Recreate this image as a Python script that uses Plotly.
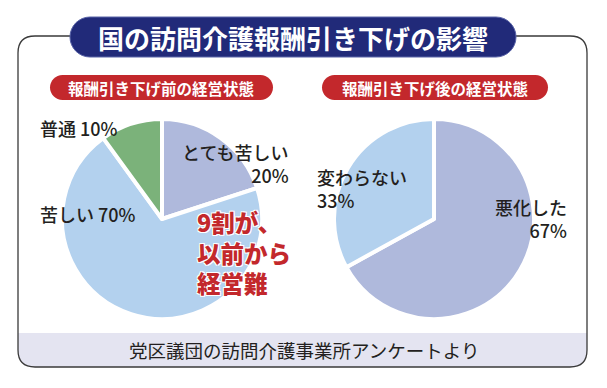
import plotly.graph_objects as go

# ---- data ----
before_labels = ["とても苦しい", "苦しい", "普通"]
before_values = [20, 70, 10]
before_colors = ["#afb9dc", "#b3d1ee", "#7bb27a"]

after_labels = ["悪化した", "変わらない"]
after_values = [67, 33]
after_colors = ["#afb9dc", "#b3d1ee"]

title_text = "国の訪問介護報酬引き下げの影響"
left_pill_text = "報酬引き下げ前の経営状態"
right_pill_text = "報酬引き下げ後の経営状態"
source_text = "党区議団の訪問介護事業所アンケートより"
callout_text = "9割が、<br>以前から<br>経営難"

PAGE_W, PAGE_H = 607, 388
OFF = 8  # default body margin of the html page
W, H = PAGE_W - OFF, PAGE_H - OFF
FONT = "Noto Sans CJK JP"
INK = "#231f20"
RED = "#c3282c"
NAVY = "#212a79"


def dom(cx, cy, r):
    cx, cy = cx - OFF, cy - OFF
    return dict(x=[(cx - r) / W, (cx + r) / W], y=[(H - cy - r) / H, (H - cy + r) / H])


fig = go.Figure()
fig.add_trace(go.Pie(labels=before_labels, values=before_values, sort=False,
                     direction="clockwise", rotation=0, textinfo="none",
                     hoverinfo="skip", showlegend=False,
                     marker=dict(colors=before_colors, line=dict(color="white", width=4)),
                     domain=dom(162, 219, 100)))
fig.add_trace(go.Pie(labels=after_labels, values=after_values, sort=False,
                     direction="clockwise", rotation=0, textinfo="none",
                     hoverinfo="skip", showlegend=False,
                     marker=dict(colors=after_colors, line=dict(color="white", width=4)),
                     domain=dom(434, 219, 100)))


def pill(x0, x1, y0, y1):
    r = (y1 - y0) / 2
    k = r * 0.5523
    cy = (y0 + y1) / 2
    return (f"M {x0+r},{y0} L {x1-r},{y0} C {x1-r+k},{y0} {x1},{cy-k} {x1},{cy} "
            f"C {x1},{cy+k} {x1-r+k},{y1} {x1-r},{y1} L {x0+r},{y1} "
            f"C {x0+r-k},{y1} {x0},{cy+k} {x0},{cy} C {x0},{cy-k} {x0+r-k},{y0} {x0+r},{y0} Z")


L, R, T, B, rr = 18, 587, 36, 367, 17
shapes = [
    dict(type="path", xref="x", yref="y", layer="below",
         path=f"M {L},333 L {R},333 L {R},{B-rr} Q {R},{B} {R-rr},{B} L {L+rr},{B} Q {L},{B} {L},{B-rr} Z",
         fillcolor="#e4e4f1", line=dict(width=0)),
    dict(type="path", xref="x", yref="y",
         path=(f"M {L},{T+rr} Q {L},{T} {L+rr},{T} L {R-rr},{T} Q {R},{T} {R},{T+rr} "
               f"L {R},{B-rr} Q {R},{B} {R-rr},{B} L {L+rr},{B} Q {L},{B} {L},{B-rr} Z"),
         line=dict(color="#3a3a3a", width=1.3)),
    dict(type="path", xref="x", yref="y", path=pill(70, 516, 17, 57),
         fillcolor=NAVY, line=dict(color="#5a64a8", width=1)),
    dict(type="path", xref="x", yref="y", path=pill(50, 273, 75, 100),
         fillcolor=RED, line=dict(width=0)),
    dict(type="path", xref="x", yref="y", path=pill(322, 548, 75, 100),
         fillcolor=RED, line=dict(width=0)),
]

ann = []


def txt(x, y, s, size=18, color=INK, xanchor="left", align="left", weight="normal", **kw):
    ann.append(dict(x=x, y=y, xref="x", yref="y", text=s,
                    showarrow=False, xanchor=xanchor, yanchor="middle", align=align,
                    font=dict(family=FONT, size=size, color=color, weight=weight), **kw))


txt(293, 37, title_text, size=26, color="white", xanchor="center", align="center", weight="bold")
txt(161.5, 87.5, left_pill_text, size=15.5, color="white", xanchor="center", weight="bold")
txt(435, 87.5, right_pill_text, size=15.5, color="white", xanchor="center", weight="bold")
txt(304, 350, source_text, size=18.5, xanchor="center")

txt(38, 128, f"普通 {before_values[2]}%", weight=500)
txt(38, 214, f"苦しい {before_values[1]}%", weight=500)
txt(291, 163, f"{before_labels[0]}<br>{before_values[0]}%", xanchor="right", align="right", weight=500)
txt(315, 188, f"{after_labels[1]}<br>{after_values[1]}%", weight=500)
txt(569, 218, f"{after_labels[0]}<br>{after_values[0]}%", xanchor="right", align="right", weight=500)

ann.append(dict(x=195, y=252, xref="x", yref="y", text=callout_text, showarrow=False,
                xanchor="left", yanchor="middle", align="left",
                font=dict(family=FONT, size=23.5, color=RED, weight=900,
                          shadow="1px 1px 0 white, -1px -1px 0 white, 1px -1px 0 white, -1px 1px 0 white")))

fig.update_layout(
    width=W, height=H, margin=dict(l=0, r=0, t=0, b=0),
    paper_bgcolor="white", plot_bgcolor="rgba(0,0,0,0)",
    xaxis=dict(range=[OFF, PAGE_W], visible=False, fixedrange=True),
    yaxis=dict(range=[PAGE_H, OFF], visible=False, fixedrange=True),
    shapes=shapes, annotations=ann,
)

fig.write_html("out.html")
